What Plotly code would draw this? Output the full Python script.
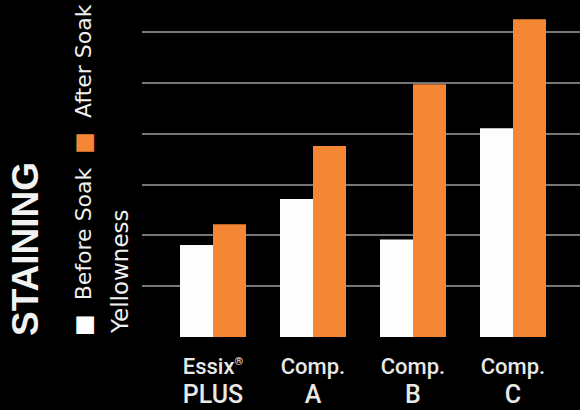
import plotly.graph_objects as go

categories = ["Essix PLUS", "Comp. A", "Comp. B", "Comp. C"]
tick_line1 = ["Essix<sup><span style='font-size:11px'>®</span></sup>", "Comp.", "Comp.", "Comp."]
tick_line2 = ["PLUS", "A", "B", "C"]
before_soak = [1.81, 2.72, 1.92, 4.11]
after_soak = [2.22, 3.76, 4.98, 6.26]
grid_values = [1, 2, 3, 4, 5, 6]

WHITE = "#fdfdfd"
ORANGE = "#f48634"
FONT = "Roboto, 'Liberation Sans', Arial, sans-serif"
FONT2 = "'DejaVu Sans', sans-serif"

x_idx = list(range(len(categories)))
tick_text = [f"{a}<br><span style='font-size:25px'>{b}</span>" for a, b in zip(tick_line1, tick_line2)]

fig = go.Figure()
fig.add_trace(go.Bar(x=x_idx, y=before_soak, name="Before Soak",
                     marker=dict(color=WHITE, line=dict(width=0)), showlegend=False))
fig.add_trace(go.Bar(x=x_idx, y=after_soak, name="After Soak",
                     marker=dict(color=ORANGE, line=dict(width=0)), showlegend=False))

fig.update_layout(
    width=580, height=410,
    margin=dict(l=142, r=0, t=7, b=73),
    paper_bgcolor="#000000", plot_bgcolor="#000000",
    barmode="group", bargap=0.34, bargroupgap=0,
    font=dict(family=FONT, color="#ececec"),
    xaxis=dict(range=[-0.71, 3.67], tickmode="array", tickvals=x_idx, ticktext=tick_text,
               showgrid=False, zeroline=False, showline=False, ticks="",
               ticklabelstandoff=14, automargin=False,
               tickfont=dict(size=22, color="#e8e8e8", family=FONT, weight=500)),
    yaxis=dict(range=[0, 6.5], tickmode="array", tickvals=grid_values, showticklabels=False,
               automargin=False,
               showgrid=True, gridcolor="#767676", gridwidth=2, zeroline=False, showline=False, ticks=""),
)

def px_x(p):
    return (p - 142) / 438

def px_y(p):
    return (337 - p) / 330

fig.add_annotation(text="<b>STAINING</b>", xref="paper", yref="paper",
                   x=px_x(25), y=px_y(249), xanchor="center", yanchor="middle",
                   textangle=-90, showarrow=False,
                   font=dict(size=37, color="#f2f2f2", family="'Liberation Sans', Arial, sans-serif"))
fig.add_annotation(text=f"<span style='color:{WHITE};font-size:23px'>■</span>  Before Soak  "
                        f"<span style='color:{ORANGE};font-size:23px'>■</span>  After Soak",
                   xref="paper", yref="paper",
                   x=px_x(83), y=px_y(170), xanchor="center", yanchor="middle",
                   textangle=-90, showarrow=False,
                   font=dict(size=22, color="#f0f0f0", family=FONT2))
fig.add_annotation(text="Yellowness", xref="paper", yref="paper",
                   x=px_x(120), y=px_y(272), xanchor="center", yanchor="middle",
                   textangle=-90, showarrow=False,
                   font=dict(size=23, color="#f0f0f0", family=FONT2))

fig.write_html("out.html", config={"displayModeBar": False},
               post_script="document.body.style.margin='0';document.body.style.overflow='hidden';")
